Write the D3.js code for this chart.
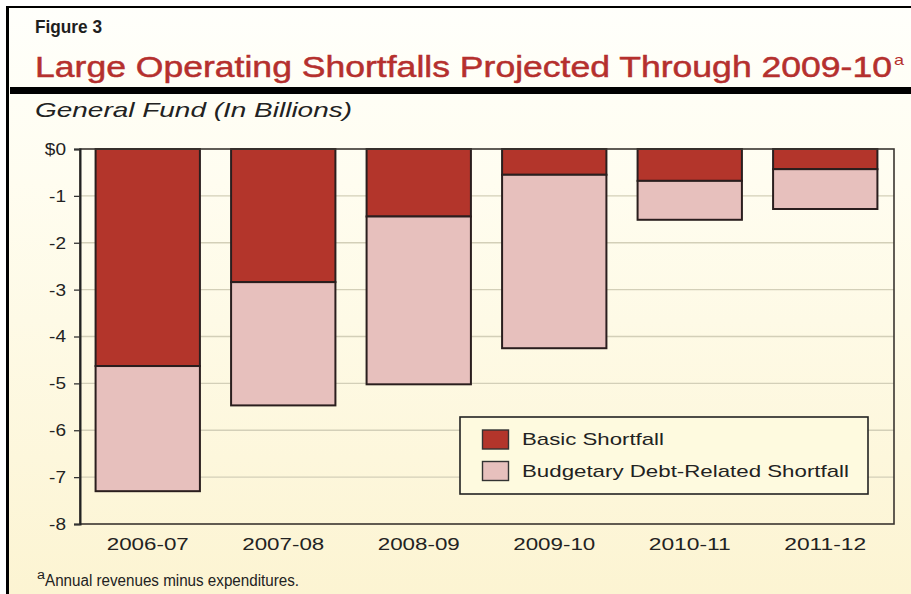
<!DOCTYPE html>
<html>
<head>
<meta charset="utf-8">
<script src="https://cdn.jsdelivr.net/npm/d3@7/dist/d3.min.js"></script>
<style>
  html, body { margin: 0; padding: 0; background: #ffffff; }
  svg { display: block; }
  text { font-family: "Liberation Sans", Arial, Helvetica, sans-serif; }
</style>
</head>
<body>
<svg id="chart" width="911" height="594"></svg>
<script>
// Fiscal years on the x axis
const years = ["2006-07", "2007-08", "2008-09", "2009-10", "2010-11", "2011-12"];
// Basic operating shortfall, $ billions (stacked first, from zero)
const basicShortfall = [-4.63, -2.84, -1.44, -0.55, -0.68, -0.43];
// Budgetary debt-related shortfall, $ billions (stacked below the basic shortfall)
const debtShortfall = [-2.67, -2.63, -3.58, -3.70, -0.83, -0.85];
// Y axis tick values and labels
const yTicks = [0, -1, -2, -3, -4, -5, -6, -7, -8];
const yTickLabels = ["$0", "-1", "-2", "-3", "-4", "-5", "-6", "-7", "-8"];
// Legend entries
const seriesNames = ["Basic Shortfall", "Budgetary Debt-Related Shortfall"];
const seriesColors = ["#b3352b", "#e7c0bd"];

const svg = d3.select("#chart");
const W = 911, H = 594;

// Warm paper background
const defs = svg.append("defs");
const grad = defs.append("linearGradient").attr("id", "paper")
  .attr("x1", 0).attr("y1", 0).attr("x2", 0).attr("y2", 1);
grad.append("stop").attr("offset", "0%").attr("stop-color", "#fffffb");
grad.append("stop").attr("offset", "30%").attr("stop-color", "#fffdf0");
grad.append("stop").attr("offset", "100%").attr("stop-color", "#fcf4d2");

svg.append("rect").attr("x", 0).attr("y", 0).attr("width", W).attr("height", H).attr("fill", "#ffffff");
svg.append("rect").attr("x", 7).attr("y", 7).attr("width", W - 7).attr("height", H - 7).attr("fill", "url(#paper)");

// Frame: top and left rules
svg.append("line").attr("x1", 6).attr("x2", W).attr("y1", 7).attr("y2", 7)
  .attr("stroke", "#000").attr("stroke-width", 2);
svg.append("line").attr("x1", 7.5).attr("x2", 7.5).attr("y1", 6).attr("y2", H)
  .attr("stroke", "#000").attr("stroke-width", 3);

// Helper for text fitted to a given width
function label(g, x, y, str, size, width, opts = {}) {
  const t = g.append("text").attr("x", x).attr("y", y).text(str)
    .attr("font-size", size)
    .attr("fill", opts.fill || "#222")
    .attr("font-weight", opts.weight || "normal")
    .attr("font-style", opts.style || "normal")
    .attr("text-anchor", opts.anchor || "start");
  if (width) t.attr("textLength", width).attr("lengthAdjust", "spacingAndGlyphs");
  if (opts.thicken) t.attr("stroke", opts.fill).attr("stroke-width", opts.thicken);
  return t;
}

// Heading block
label(svg, 35, 33, "Figure 3", 18, 67, { weight: "bold", fill: "#1e1e1e" });
label(svg, 35, 77, "Large Operating Shortfalls Projected Through 2009-10", 30, 857, { fill: "#b5302e", thicken: 0.5 });
label(svg, 894, 65, "a", 15, 10, { fill: "#b5302e" });
svg.append("rect").attr("x", 10).attr("y", 87).attr("width", W - 10).attr("height", 7).attr("fill", "#000");
label(svg, 35, 117, "General Fund (In Billions)", 21, 317, { style: "italic", fill: "#222" });

// Plot area
const plot = { left: 80, right: 894, top: 149, bottom: 524 };
const x = d3.scaleBand().domain(years).range([plot.left, plot.right - 1])
  .paddingInner(0.23).paddingOuter(0.115);
const y = d3.scaleLinear().domain([-8, 0]).range([plot.bottom, plot.top]);

// Horizontal gridlines
svg.append("g").selectAll("line").data(yTicks.filter(v => v !== 0 && v !== -8)).join("line")
  .attr("x1", plot.left).attr("x2", plot.right)
  .attr("y1", d => y(d)).attr("y2", d => y(d))
  .attr("stroke", "#d3cfb8").attr("stroke-width", 1.3);

// Stacked bars
const stacks = years.map((yr, i) => ({
  year: yr,
  parts: [
    { key: 0, y0: 0, y1: basicShortfall[i] },
    { key: 1, y0: basicShortfall[i], y1: basicShortfall[i] + debtShortfall[i] }
  ]
}));
const barG = svg.append("g");
stacks.forEach(s => {
  barG.selectAll(null).data(s.parts).join("rect")
    .attr("x", x(s.year))
    .attr("width", x.bandwidth())
    .attr("y", d => y(d.y0))
    .attr("height", d => y(d.y1) - y(d.y0))
    .attr("fill", d => seriesColors[d.key])
    .attr("stroke", "#2a1e1e").attr("stroke-width", 2);
});

// Plot frame
svg.append("rect").attr("x", plot.left).attr("y", plot.top)
  .attr("width", plot.right - plot.left).attr("height", plot.bottom - plot.top)
  .attr("fill", "none").attr("stroke", "#3a3530").attr("stroke-width", 1.6);

// Y axis
const yAxis = d3.axisLeft(y).tickValues(yTicks).tickSize(6).tickPadding(8)
  .tickFormat((d, i) => yTickLabels[i]);
const yG = svg.append("g").attr("transform", `translate(${plot.left},0)`).call(yAxis);
yG.select(".domain").attr("stroke", "#222").attr("stroke-width", 2);
yG.selectAll(".tick line").attr("stroke", "#333").attr("stroke-width", 1.3);
yG.selectAll(".tick text").attr("font-size", 17).attr("fill", "#222")
  .attr("font-family", "Liberation Sans, Arial, sans-serif")
  .attr("transform", "scale(1.12,1)")
  .attr("x", -14 / 1.12);

// X axis labels
const xAxis = d3.axisBottom(x).tickSize(0).tickPadding(14);
const xG = svg.append("g").attr("transform", `translate(0,${plot.bottom})`).call(xAxis);
xG.select(".domain").remove();
xG.selectAll(".tick text").attr("font-size", 17).attr("fill", "#222")
  .attr("font-family", "Liberation Sans, Arial, sans-serif")
  .attr("textLength", 82).attr("lengthAdjust", "spacingAndGlyphs");

// Legend
const lg = svg.append("g");
lg.append("rect").attr("x", 460).attr("y", 417).attr("width", 408).attr("height", 77)
  .attr("fill", "#fefadf").attr("stroke", "#222").attr("stroke-width", 1.6);
const legendWidths = [142, 327];
seriesNames.forEach((name, i) => {
  const yy = 430 + i * 31.5;
  lg.append("rect").attr("x", 482.5).attr("y", yy).attr("width", 26).attr("height", 19)
    .attr("fill", seriesColors[i]).attr("stroke", "#333").attr("stroke-width", 1.4);
  label(lg, 522, yy + 15, name, 17, legendWidths[i], { fill: "#222" });
});

// Footnote
label(svg, 37, 579, "a", 12, 8, { fill: "#222" });
label(svg, 45, 586, "Annual revenues minus expenditures.", 16, 254, { fill: "#222" });
</script>
</body>
</html>
